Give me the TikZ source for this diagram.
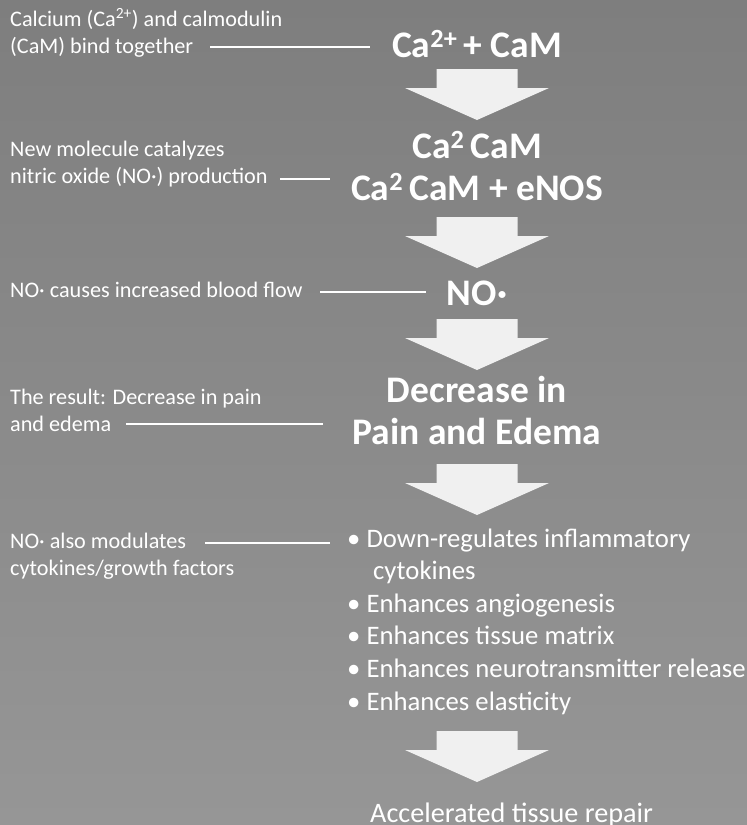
\documentclass[tikz,border=0pt]{standalone}
\usepackage{fontspec}
\setmainfont{Carlito}
\usepackage{tikz}
\usetikzlibrary{positioning}
\definecolor{arrowwhite}{RGB}{240,240,240}
\definecolor{bgtop}{RGB}{126,126,126}
\definecolor{bgbottom}{RGB}{150,150,150}
\newcommand{\midx}{477}
\newcommand{\shaftw}{40.5}
\newcommand{\headw}{72}
\newcommand{\flowarrow}[1]{%
  \fill[arrowwhite] ({\midx-\shaftw},#1) -- ({\midx+\shaftw},#1) -- ({\midx+\shaftw},#1+19)
    -- ({\midx+\headw},#1+19) -- (\midx,#1+51) -- ({\midx-\headw},#1+19)
    -- ({\midx-\shaftw},#1+19) -- cycle;}

\begin{document}
\begin{tikzpicture}[x=1pt,y=-1pt,
    sidelbl/.style={anchor=base west, align=left, text=white, inner sep=0pt,
      font=\fontsize{22.2}{26.5}\selectfont},
    stage/.style={anchor=base, align=center, text=white, inner sep=0pt,
      font=\bfseries\fontsize{37.5}{42}\selectfont},
    effect/.style={anchor=base west, align=left, text=white, inner sep=0pt,
      font=\fontsize{26.7}{32.6}\selectfont},
    link/.style={draw=white, line width=1.3pt}]
  \useasboundingbox (0,0) rectangle (747,825);
  \clip (0,0) rectangle (747,825);
  \shade[top color=bgtop, bottom color=bgbottom] (0,0) rectangle (747,825);

  % left side notes (placed at their last baseline)
  \node[sidelbl] (bindlbl) at (10,53) {Calcium (Ca\textsuperscript{2+}) and calmodulin\\(CaM) bind together};
  \node[sidelbl] (catalbl) at (10,183) {New molecule catalyzes\\nitric oxide (NO·) production};
  \node[sidelbl] (flowlbl) at (10,297) {NO· causes increased blood flow};
  \node[sidelbl] (resultlbl) at (10,431) {The result: Decrease in pain\\and edema};
  \node[sidelbl] (modlbl) at (10,575) {NO· also modulates\\cytokines/growth factors};

  % main chain
  \node[stage] (calcam) at (\midx,57) {Ca\textsuperscript{2+}\,+ CaM};
  \node[stage] (cacam) at (\midx,200) {Ca\textsuperscript{2}\,CaM\\Ca\textsuperscript{2}\,CaM + eNOS};
  \node[stage] (nitric) at (\midx,305) {NO·};
  \node[stage] (relief) at (\midx,444) {Decrease in\\Pain and Edema};
  \node[effect] (effects) at (347,710) {• Down-regulates inflammatory\\\hspace*{26pt}cytokines\\• Enhances angiogenesis\\• Enhances tissue matrix\\• Enhances neurotransmitter release\\• Enhances elasticity};
  \node[effect, font=\fontsize{28.2}{32}\selectfont] (repair) at (370,822) {Accelerated tissue repair};

  \flowarrow{69}
  \flowarrow{217}
  \flowarrow{319}
  \flowarrow{464}
  \flowarrow{731}

  % connectors
  \coordinate (b1) at (210,47);  \coordinate (e1) at (370,47);
  \coordinate (b2) at (280,179); \coordinate (e2) at (330,179);
  \coordinate (b3) at (320,292); \coordinate (e3) at (426,292);
  \coordinate (b4) at (126,424); \coordinate (e4) at (323,424);
  \coordinate (b5) at (205,543); \coordinate (e5) at (330,543);
  \draw[link] (b1) -- (e1);
  \draw[link] (b2) -- (e2);
  \draw[link] (b3) -- (e3);
  \draw[link] (b4) -- (e4);
  \draw[link] (b5) -- (e5);
\end{tikzpicture}
\end{document}
